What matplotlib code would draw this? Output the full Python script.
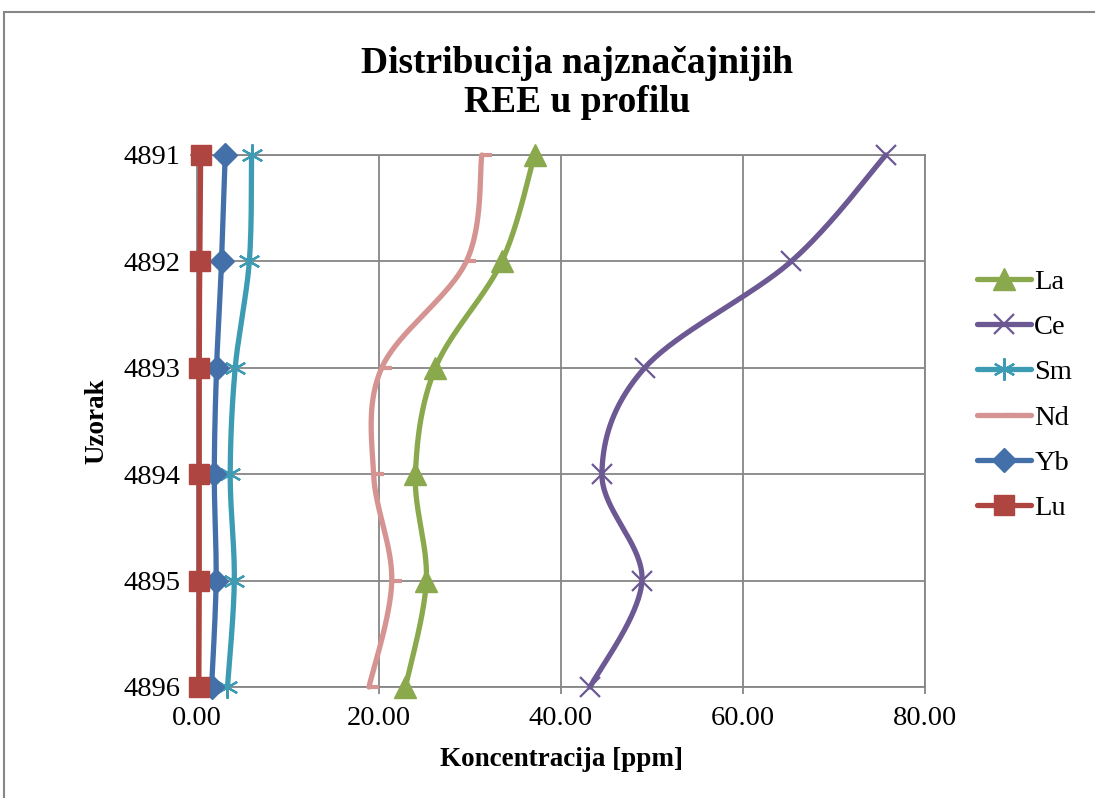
import numpy as np
import matplotlib
matplotlib.use("Agg")
import matplotlib.pyplot as plt
from matplotlib.path import Path
from matplotlib.lines import Line2D
from matplotlib.patches import Rectangle

# uzorci (y os) i koncentracije REE u ppm
samples = [4891, 4892, 4893, 4894, 4895, 4896]
La = [37.1, 33.5, 26.2, 24.0, 25.2, 22.9]
Ce = [75.7, 65.3, 49.2, 44.5, 48.9, 43.2]
Sm = [6.0, 5.75, 4.2, 3.65, 4.1, 3.35]
Nd = [31.3, 29.6, 20.3, 19.4, 21.4, 18.9]
Yb = [3.1, 2.7, 2.15, 1.9, 2.1, 1.6]
Lu = [0.4, 0.3, 0.25, 0.25, 0.25, 0.2]

names = ['La', 'Ce', 'Sm', 'Nd', 'Yb', 'Lu']
series = [La, Ce, Sm, Nd, Yb, Lu]
colors = ['#8AA84C', '#6C5893', '#3D9CB3', '#D59392', '#4470AA', '#AE4541']

dash = Path([(0, 0), (1, 0)], [Path.MOVETO, Path.LINETO])
markers = ['^', 'x', (6, 2, 0), dash, 'D', 's']
msizes = [16, 14, 16, 14, 12, 15]
mews = [1, 1.6, 1.6, 3, 1, 1]


def smooth(xs, ys, n=40):
    # bezier kao Excel "smoothed line"
    P = np.column_stack([xs, ys]).astype(float)
    P = np.vstack([P[0], P, P[-1]])
    out = []
    for i in range(1, len(P) - 2):
        p0, p1 = P[i], P[i + 1]
        c1 = p0 + (P[i + 1] - P[i - 1]) / 6
        c2 = p1 - (P[i + 2] - P[i]) / 6
        t = np.linspace(0, 1, n)[:, None]
        b = (1 - t) ** 3 * p0 + 3 * (1 - t) ** 2 * t * c1 + 3 * (1 - t) * t ** 2 * c2 + t ** 3 * p1
        out.append(b)
    out = np.vstack(out)
    return out[:, 0], out[:, 1]


plt.rcParams['font.family'] = ['Liberation Serif', 'DejaVu Serif']

fig = plt.figure(figsize=(10.95, 7.98), dpi=100)
ax = fig.add_axes([197 / 1095, 1 - 687 / 798, 728 / 1095, 532 / 798])

handles = []
for name, vals, c, m, ms, mew in zip(names, series, colors, markers, msizes, mews):
    sx, sy = smooth(vals, samples)
    ax.plot(sx, sy, color=c, lw=3.8, solid_capstyle='round', zorder=3, clip_on=False)
    ax.plot(vals, samples, ls='none', marker=m, ms=ms, color=c, mec=c, mew=mew, zorder=4,
            clip_on=False)
    handles.append(Line2D([], [], color=c, lw=3.8, marker=m, ms=ms, mec=c, mew=mew,
                          solid_capstyle='round'))

ax.set_xlim(0, 80)
ax.set_ylim(4896, 4891)
ax.set_xticks([0, 20, 40, 60, 80])
ax.set_xticklabels(['0.00', '20.00', '40.00', '60.00', '80.00'])
ax.set_yticks(samples)
ax.set_yticklabels([str(s) for s in samples])
ax.grid(True, color='#868686', lw=1.3, zorder=0)
ax.set_axisbelow(True)
for s in ax.spines.values():
    s.set_color('#868686')
    s.set_linewidth(1.3)
ax.tick_params(axis='both', labelsize=20.5, colors='#868686', labelcolor='black',
               length=5, width=1.3, direction='out')
ax.tick_params(axis='x', pad=9)
ax.tick_params(axis='y', pad=7)

ax.set_xlabel('Koncentracija [ppm]', fontsize=19.5, fontweight='bold', labelpad=11)
ax.set_ylabel('Uzorak', fontsize=19.5, fontweight='bold', labelpad=10)

fig.text(577 / 1095, 1 - 83 / 798, 'Distribucija najznačajnijih\nREE u profilu',
         ha='center', va='center', fontsize=27, fontweight='bold', linespacing=1.18)

fig.legend(handles, names, loc='center left', bbox_to_anchor=(966 / 1095, 1 - 395 / 798),
           frameon=False, fontsize=20.5, handlelength=1.9, handletextpad=0.1,
           labelspacing=0.68, borderaxespad=0)

fig.patches.append(Rectangle((4 / 1095, -0.1), 1.2, 1.1 - 12 / 798, transform=fig.transFigure,
                             fill=False, edgecolor='#878787', lw=1.5))

fig.savefig('out.png', dpi=100)
